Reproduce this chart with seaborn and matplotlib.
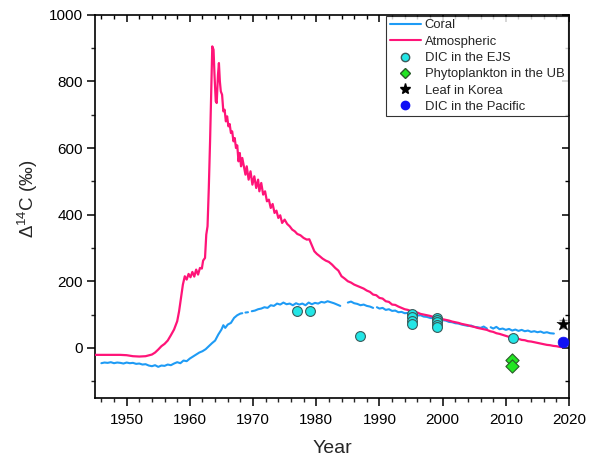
import numpy as np
import pandas as pd
import matplotlib
matplotlib.use("Agg")
import matplotlib.pyplot as plt
from matplotlib.lines import Line2D
from matplotlib.ticker import MultipleLocator
import seaborn as sns

# ---------------- data ----------------
atm_year = [1945, 1947, 1949, 1950, 1951, 1952, 1953, 1954, 1954.5, 1955, 1955.5, 1956, 1956.5,
            1957, 1957.5, 1958, 1958.3, 1958.6, 1958.9, 1959.2, 1959.5, 1959.8, 1960.1, 1960.4,
            1960.7, 1961, 1961.3, 1961.6, 1961.9, 1962.1, 1962.4, 1962.6, 1962.8, 1963.0, 1963.2,
            1963.4, 1963.55, 1963.75, 1963.9, 1964.1, 1964.25, 1964.45, 1964.6, 1964.75, 1964.9,
            1965.1, 1965.3, 1965.5, 1965.7, 1965.9, 1966.1, 1966.3, 1966.5, 1966.7, 1966.9, 1967.1,
            1967.3, 1967.5, 1967.7, 1967.9, 1968.1, 1968.3, 1968.5, 1968.8, 1969.0, 1969.3, 1969.6,
            1969.9, 1970.2, 1970.5, 1970.8, 1971.0, 1971.3, 1971.6, 1971.9, 1972.2, 1972.5, 1972.8,
            1973.1, 1973.4, 1973.7, 1974.0, 1974.3, 1974.6, 1975.0, 1975.4, 1975.8, 1976.2, 1976.6,
            1977.0, 1977.5, 1978.0, 1978.5, 1978.9, 1979.3, 1979.7, 1980.1, 1980.5, 1981.0, 1981.5,
            1982.0, 1982.5, 1983.0, 1983.5, 1984.0, 1984.5, 1985.0, 1985.5, 1986.0, 1986.5, 1987.0,
            1987.5, 1988.0, 1988.5, 1989.0, 1989.5, 1990.0, 1990.5, 1991.0, 1991.5, 1992.0, 1992.5,
            1993.0, 1993.5, 1994.0, 1994.5, 1995.0, 1995.5, 1996.0, 1996.5, 1997.0, 1997.5, 1998.0,
            1998.5, 1999.0, 1999.5, 2000.0, 2000.5, 2001.0, 2001.5, 2002.0, 2002.5, 2003.0, 2003.5,
            2004.0, 2004.5, 2005.0, 2005.5, 2006.0, 2006.5, 2007.0, 2007.5, 2008.0, 2008.5, 2009.0,
            2009.5, 2010.0, 2010.5, 2011.0, 2011.5, 2012.0, 2012.5, 2013.0, 2013.5, 2014.0, 2014.5,
            2015.0, 2015.5, 2016.0, 2016.5, 2017.0, 2017.5, 2018.0, 2018.5, 2019.0]
atm_d14c = [-21, -21, -21, -22, -25, -26, -25, -20, -14, -5, 5, 12, 22,
            38, 55, 80, 110, 150, 190, 215, 205, 222, 212, 228,
            214, 235, 220, 240, 238, 262, 270, 340, 365, 480, 620,
            780, 905, 895, 820, 740, 735, 820, 855, 800, 770,
            760, 710, 715, 680, 695, 665, 672, 645, 650, 620, 630,
            600, 608, 560, 585, 545, 570, 550, 520, 545, 505, 530,
            490, 515, 480, 505, 470, 495, 460, 470, 440, 445, 420,
            432, 405, 412, 390, 398, 375, 385, 372, 365, 355, 350,
            342, 338, 330, 325, 326, 308, 290, 282, 276, 268, 262,
            258, 250, 240, 232, 215, 208, 200, 196, 190, 186, 182,
            178, 172, 168, 160, 158, 150, 148, 140, 138, 130, 129,
            124, 120, 116, 114, 110, 108, 106, 102, 100, 98, 96,
            93, 91, 89, 86, 84, 82, 79, 77, 75, 72, 70,
            68, 65, 63, 60, 58, 56, 54, 50, 48, 44, 42,
            39, 36, 33, 30, 28, 27, 24, 23, 20, 19, 17,
            15, 13, 11, 9, 8, 6, 5, 3, 2]

coral_year = [1946.0, 1946.5, 1947.0, 1947.5, 1948.0, 1948.5, 1949.0, 1949.5, 1950.0, 1950.5,
              1951.0, 1951.5, 1952.0, 1952.5, 1953.0, 1953.5, 1954.0, 1954.5, 1955.0, 1955.5,
              1956.0, 1956.5, 1957.0, 1957.5, 1958.0, 1958.5, 1959.0, 1959.5, 1960.0, 1960.5,
              1961.0, 1961.5, 1962.0, 1962.5, 1963.0, 1963.5, 1964.0, 1964.5, 1965.0, 1965.3,
              1965.6, 1966.0, 1966.5, 1967.0, 1967.5, 1968.0, 1968.3, np.nan, 1968.8, 1969.2,
              np.nan, 1969.8, 1970.3, 1970.8, 1971.3, 1971.8, 1972.3, 1972.8, 1973.3, 1973.8,
              1974.3, 1974.8, 1975.3, 1975.8, 1976.3, 1976.8, 1977.3, 1977.8, 1978.3, 1978.8,
              1979.3, 1979.8, 1980.3, 1980.8, 1981.3, 1981.8, 1982.3, 1982.8, 1983.3, 1983.8,
              np.nan, 1985.0, 1985.5, 1986.0, 1986.5, 1987.0, 1987.5, 1988.0, 1988.5, 1989.0,
              np.nan, 1989.6, 1990.0, 1990.5, 1991.0, 1991.5, 1992.0, 1992.5, 1993.0, 1993.5,
              1994.0, 1994.5, 1995.0, 1995.5, 1996.0, 1996.5, 1997.0, 1997.5, 1998.0, 1998.5,
              1999.0, 1999.5, 2000.0, 2000.5, 2001.0, 2001.5, 2002.0, 2002.5, 2003.0, 2003.5,
              2004.0, 2004.5, 2005.0, 2005.5, 2006.0, 2006.5, 2007.0, np.nan, 2007.6, 2008.0,
              2008.5, 2009.0, 2009.5, 2010.0, 2010.5, 2011.0, 2011.5, 2012.0, 2012.5, 2013.0,
              2013.5, 2014.0, 2014.5, 2015.0, 2015.5, 2016.0, 2016.5, 2017.0, 2017.6]
coral_d14c = [-46, -44, -45, -43, -46, -44, -45, -47, -44, -46,
              -45, -48, -47, -50, -49, -53, -55, -52, -57, -53,
              -54, -50, -52, -47, -43, -46, -38, -40, -32, -26,
              -20, -14, -10, -4, 5, 14, 22, 40, 55, 68,
              60, 70, 75, 90, 98, 103, 104, np.nan, 106, 107,
              np.nan, 110, 112, 116, 118, 122, 120, 128, 126, 133,
              130, 136, 131, 133, 128, 134, 130, 133, 128, 136,
              131, 135, 133, 138, 136, 140, 137, 134, 130, 126,
              np.nan, 136, 139, 134, 132, 128, 130, 126, 124, 120,
              np.nan, 122, 118, 120, 114, 116, 111, 112, 107, 108,
              104, 105, 101, 100, 97, 98, 94, 93, 90, 89,
              87, 86, 83, 82, 78, 77, 74, 73, 70, 68,
              66, 67, 63, 62, 60, 64, 58, np.nan, 62, 58,
              63, 56, 58, 54, 57, 52, 55, 51, 54, 50,
              52, 48, 50, 47, 49, 45, 47, 44, 43]

ejs_year = [1977, 1979, 1987, 1995.2, 1995.2, 1995.2, 1995.2, 1999.1, 1999.1, 1999.1, 1999.1, 1999.1, 2011.1]
ejs_d14c = [112, 112, 37, 103, 92, 80, 72, 90, 84, 78, 70, 63, 31]

phyto_year = [2011, 2011]
phyto_d14c = [-37, -53]

leaf_year = [2019.1]
leaf_d14c = [71]
leaf_err = [12]

pac_year = [2019.1]
pac_d14c = [19]
pac_err = [8]

# ---------------- styling ----------------
sns.set_theme(style="ticks")
plt.rcParams['font.family'] = ['Liberation Sans', 'DejaVu Sans']
plt.rcParams['mathtext.fontset'] = 'custom'
plt.rcParams['mathtext.rm'] = 'Liberation Sans'
plt.rcParams['mathtext.it'] = 'Liberation Sans'

C_ATM = "#FF1478"
C_CORAL = "#1E9BF5"
C_EJS = "#22E6E6"
C_PHY = "#22E622"
C_PAC = "#1010F5"

fig = plt.figure(figsize=(5.94, 4.61), dpi=100)
rect = [0.160, 0.137, 0.798, 0.831]
ax = fig.add_axes(rect)

atm = pd.DataFrame({"year": atm_year, "d14c": atm_d14c})
coral = pd.DataFrame({"year": coral_year, "d14c": coral_d14c})
coral["seg"] = coral["year"].isna().cumsum()
coral = coral.dropna()

sns.lineplot(data=coral, x="year", y="d14c", units="seg", estimator=None, color=C_CORAL,
             lw=1.5, ax=ax, sort=False, zorder=2)
sns.lineplot(data=atm, x="year", y="d14c", color=C_ATM, lw=1.6, ax=ax, sort=False, zorder=3)

ax.errorbar(leaf_year, leaf_d14c, yerr=leaf_err, fmt='none', ecolor='#999999', elinewidth=1,
            capsize=3, zorder=4)
ax.errorbar(pac_year, pac_d14c, yerr=pac_err, fmt='none', ecolor='#999999', elinewidth=1,
            capsize=3, zorder=4)

sns.scatterplot(x=ejs_year, y=ejs_d14c, marker='o', s=50, color=C_EJS, edgecolor='#3a5a5a',
                linewidth=0.8, ax=ax, zorder=5)
sns.scatterplot(x=phyto_year, y=phyto_d14c, marker='D', s=45, color=C_PHY, edgecolor='#2a5a2a',
                linewidth=0.8, ax=ax, zorder=5)
sns.scatterplot(x=leaf_year, y=leaf_d14c, marker='*', s=100, color='black', edgecolor='black',
                linewidth=0.3, ax=ax, zorder=6)
sns.scatterplot(x=pac_year, y=pac_d14c, marker='o', s=60, color=C_PAC, edgecolor=C_PAC,
                linewidth=0.5, ax=ax, zorder=6)

ax.set_xlim(1945, 2020)
ax.set_ylim(-150, 1000)
ax.xaxis.set_major_locator(MultipleLocator(10))
ax.xaxis.set_minor_locator(MultipleLocator(2))
ax.yaxis.set_major_locator(MultipleLocator(200))
ax.yaxis.set_minor_locator(MultipleLocator(100))
ax.tick_params(which='major', direction='out', length=5.5, width=1.1, labelsize=11,
               colors='black', top=False, right=False, pad=3)
ax.tick_params(axis='x', which='major', pad=5.5)
ax.tick_params(which='minor', direction='out', length=3, width=1.0, top=False, right=False)
for s in ax.spines.values():
    s.set_visible(True)
    s.set_linewidth(1.2)
    s.set_color('black')

# underlay axes carrying only inward ticks on top and right
ov = fig.add_axes(rect, sharex=ax, sharey=ax, facecolor='white')
ov.tick_params(which='both', direction='in', top=True, right=True, bottom=False, left=False,
               labeltop=False, labelright=False, labelbottom=False, labelleft=False, colors='black')
ov.tick_params(which='major', length=5, width=1.1)
ov.tick_params(which='minor', length=3, width=1.0)
for s in ov.spines.values():
    s.set_visible(False)
ov.set_zorder(ax.get_zorder() - 1)
ax.patch.set_visible(False)

ax.set_xlabel("Year", fontsize=14, labelpad=9)
ax.set_ylabel(r"$\Delta^{14}$C (‰)", fontsize=13.5)
ax.yaxis.set_label_coords(-0.117, 0.52)

handles = [
    Line2D([], [], color=C_CORAL, lw=1.5),
    Line2D([], [], color=C_ATM, lw=1.5),
    Line2D([], [], ls='none', marker='o', markersize=6, markerfacecolor=C_EJS, markeredgecolor='#3a5a5a'),
    Line2D([], [], ls='none', marker='D', markersize=5.5, markerfacecolor=C_PHY, markeredgecolor='#2a5a2a'),
    Line2D([], [], ls='none', marker='*', markersize=8, color='black'),
    Line2D([], [], ls='none', marker='o', markersize=6, markerfacecolor=C_PAC, markeredgecolor=C_PAC),
]
labels = ["Coral", "Atmospheric", "DIC in the EJS", "Phytoplankton in the UB",
          "Leaf in Korea", "DIC in the Pacific"]
leg = ax.legend(handles, labels, loc='upper right', fontsize=9.4, frameon=True, fancybox=False,
                edgecolor='black', borderaxespad=0.1, handlelength=2.4, labelspacing=0.32,
                borderpad=0.25, handletextpad=0.3)
leg.get_frame().set_linewidth(0.8)
leg.set_zorder(10)

fig.savefig("out.png", dpi=100)
